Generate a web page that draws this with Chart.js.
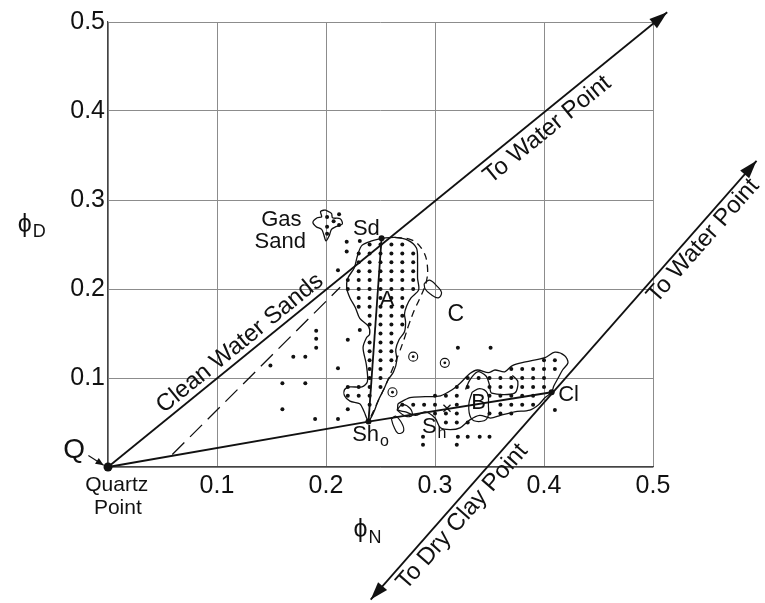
<!DOCTYPE html>
<html>
<head>
<meta charset="utf-8">
<script src="https://cdn.jsdelivr.net/npm/chart.js@4.4.0/dist/chart.umd.min.js"></script>
<style>
  body { margin: 0; background: #fff; }
</style>
</head>
<body>
<canvas id="chart" width="765" height="603"></canvas>
<script>
// Axis ticks (porosity, v/v)
const tickValues = [0, 0.1, 0.2, 0.3, 0.4, 0.5];

// Key points of the neutron-density crossplot [phiN, phiD]
const quartzPoint = [0, 0];
const waterArrow = [0.513, 0.511];
const shale0 = [0.239, 0.051];
const sandTop = [0.251, 0.257];
const clayPoint = [0.407, 0.084];
const clayLine = [[0.241, -0.149], [0.595, 0.344]];
const cleanDash = [[0.059, 0.014], [0.213, 0.202]];
const quartzArrow = [[-0.018, 0.013], [-0.004, 0.002]];

// Outlines of the data clusters
const sdBlob = [[0.251,0.257],[0.263,0.258],[0.275,0.255],[0.283,0.246],[0.284,0.230],[0.284,0.212],[0.285,0.199],[0.278,0.190],[0.274,0.181],[0.272,0.172],[0.273,0.163],[0.272,0.152],[0.267,0.143],[0.264,0.132],[0.265,0.120],[0.262,0.107],[0.257,0.098],[0.253,0.087],[0.248,0.075],[0.244,0.062],[0.239,0.052],[0.235,0.062],[0.231,0.071],[0.222,0.074],[0.217,0.080],[0.217,0.087],[0.222,0.090],[0.233,0.090],[0.238,0.096],[0.237,0.115],[0.234,0.134],[0.237,0.145],[0.240,0.149],[0.239,0.158],[0.231,0.167],[0.227,0.179],[0.222,0.190],[0.219,0.201],[0.220,0.212],[0.226,0.224],[0.229,0.238],[0.233,0.249],[0.242,0.254]];
const gasBlob = [[0.199,0.289],[0.205,0.285],[0.206,0.280],[0.213,0.279],[0.215,0.273],[0.209,0.270],[0.205,0.267],[0.203,0.260],[0.200,0.254],[0.198,0.261],[0.196,0.267],[0.191,0.270],[0.188,0.275],[0.192,0.280],[0.196,0.281],[0.195,0.287]];
const bBlob = [[0.266,0.071],[0.277,0.078],[0.291,0.079],[0.305,0.080],[0.316,0.087],[0.323,0.094],[0.332,0.105],[0.339,0.109],[0.349,0.106],[0.355,0.109],[0.364,0.107],[0.371,0.114],[0.383,0.118],[0.401,0.123],[0.410,0.129],[0.419,0.125],[0.422,0.117],[0.417,0.109],[0.413,0.100],[0.409,0.091],[0.407,0.084],[0.401,0.078],[0.395,0.070],[0.387,0.064],[0.373,0.062],[0.360,0.058],[0.351,0.055],[0.341,0.058],[0.332,0.053],[0.323,0.044],[0.314,0.042],[0.305,0.044],[0.300,0.055],[0.291,0.062],[0.282,0.058],[0.273,0.062],[0.266,0.064]];
const bInner = [[0.328,0.087],[0.332,0.098],[0.339,0.107],[0.347,0.102],[0.350,0.092],[0.352,0.083],[0.373,0.083],[0.376,0.096],[0.371,0.103]];
const bOval = [[0.334,0.084],[0.341,0.088],[0.348,0.083],[0.349,0.070],[0.348,0.055],[0.340,0.051],[0.333,0.055],[0.331,0.070]];
const tabLoop = [[0.290,0.206],[0.295,0.210],[0.302,0.203],[0.306,0.196],[0.303,0.190],[0.296,0.194],[0.291,0.200]];
const shOval = [[0.260,0.054],[0.264,0.057],[0.270,0.048],[0.271,0.040],[0.266,0.038],[0.262,0.046]];
const hookLoop = [[0.265,0.064],[0.270,0.070],[0.277,0.066],[0.279,0.058],[0.273,0.057]];
const trendDash = [[0.263,0.258],[0.279,0.255],[0.289,0.243],[0.293,0.226],[0.292,0.208],[0.287,0.192],[0.281,0.176],[0.276,0.160],[0.272,0.145],[0.267,0.128],[0.261,0.110],[0.254,0.090],[0.247,0.072],[0.239,0.051]];

// Log points: rows of [phiD, [phiN ...]]
const sdRows = [
  [0.25, [0.24, 0.25, 0.26, 0.27]],
  [0.24, [0.23, 0.24, 0.25, 0.26, 0.27, 0.28]],
  [0.23, [0.23, 0.24, 0.25, 0.26, 0.27, 0.28]],
  [0.22, [0.23, 0.24, 0.25, 0.26, 0.27, 0.28]],
  [0.21, [0.22, 0.23, 0.24, 0.25, 0.26, 0.27, 0.28]],
  [0.20, [0.22, 0.23, 0.24, 0.25, 0.26, 0.27, 0.28]],
  [0.19, [0.23, 0.24, 0.25, 0.26, 0.27]],
  [0.18, [0.23, 0.24, 0.25, 0.26, 0.27]],
  [0.17, [0.24, 0.25, 0.26, 0.27]],
  [0.16, [0.24, 0.25, 0.26, 0.27]],
  [0.15, [0.25, 0.26]],
  [0.14, [0.24, 0.25, 0.26]],
  [0.13, [0.24, 0.25, 0.26]],
  [0.12, [0.24, 0.25, 0.26]],
  [0.11, [0.24, 0.25]],
  [0.10, [0.24, 0.25]],
  [0.09, [0.22, 0.23, 0.24, 0.25]],
  [0.08, [0.22, 0.23, 0.24]],
  [0.07, [0.24]]
];
const bRows = [
  [0.12, [0.40, 0.41]],
  [0.11, [0.37, 0.38, 0.39, 0.40, 0.41]],
  [0.10, [0.33, 0.34, 0.35, 0.36, 0.37, 0.38, 0.39, 0.40]],
  [0.09, [0.32, 0.33, 0.35, 0.36, 0.37, 0.38, 0.39, 0.40]],
  [0.08, [0.30, 0.31, 0.32, 0.35, 0.36, 0.37, 0.38, 0.39]],
  [0.07, [0.27, 0.28, 0.29, 0.30, 0.32, 0.36, 0.37, 0.38, 0.39]],
  [0.06, [0.30, 0.31, 0.32, 0.35, 0.36, 0.37]],
  [0.05, [0.31, 0.32, 0.33]]
];
const looseDots = [[0.191,0.153],[0.191,0.144],[0.191,0.134],[0.170,0.124],[0.181,0.124],[0.149,0.114],[0.160,0.094],[0.181,0.094],[0.160,0.065],[0.190,0.054],[0.211,0.054],[0.220,0.065],[0.220,0.143],[0.231,0.154],[0.211,0.111],[0.211,0.221],[0.219,0.253],[0.219,0.242],[0.231,0.254],[0.321,0.134],[0.351,0.134],[0.289,0.034],[0.289,0.025],[0.320,0.025],[0.321,0.034],[0.330,0.034],[0.341,0.034],[0.350,0.034],[0.410,0.064]];
const gasDots = [[0.201,0.281],[0.201,0.270],[0.207,0.276],[0.212,0.284],[0.212,0.272],[0.201,0.262]];
const circleMarks = [[0.280,0.124],[0.261,0.084],[0.309,0.117]];
const crossMark = [[0.311,0.066]];

const ink = '#111';
const fontFamily = "'Liberation Sans', Arial, Helvetica, sans-serif";

function pts(list) {
    return list.map(p => ({ x: p[0], y: p[1] }));
}

function rowPts(rows) {
    const out = [];
    rows.forEach(([yv, xs]) => xs.forEach(xv => out.push({ x: xv, y: yv })));
    return out;
}

function closed(list) {
    return list.concat([list[0]]);
}

function lineSet(list, extra) {
    return Object.assign({
        data: pts(list),
        showLine: true,
        borderColor: ink,
        borderWidth: 1.8,
        pointRadius: 0,
        fill: false,
        clip: false,
        tension: 0
    }, extra || {});
}

function dotSet(data, extra) {
    return Object.assign({
        data: data,
        showLine: false,
        pointRadius: 2,
        pointBackgroundColor: ink,
        pointBorderWidth: 0,
        clip: false
    }, extra || {});
}

// Text labels (anchors in data units)
const textLabels = [
    { text: 'Gas', at: [0.159, 0.278], size: 22 },
    { text: 'Sand', at: [0.158, 0.253], size: 22 },
    { text: 'Sd', at: [0.237, 0.268], size: 22 },
    { text: 'A', at: [0.256, 0.188], size: 22 },
    { text: 'C', at: [0.319, 0.171], size: 23 },
    { text: 'B', at: [0.340, 0.072], size: 22 },
    { text: 'Cl', at: [0.413, 0.081], size: 22, align: 'left' },
    { text: 'S', sub: 'h', at: [0.288, 0.045], size: 22, align: 'left' },
    { text: 'Sh', sub: 'o', at: [0.224, 0.036], size: 22, align: 'left' },
    { text: 'Q', at: [-0.031, 0.019], size: 28 },
    { text: 'Quartz', at: [0.008, -0.020], size: 21 },
    { text: 'Point', at: [0.009, -0.046], size: 21 },
    { text: '\u03d5', sub: 'D', at: [-0.070, 0.272], size: 25 },
    { text: '\u03d5', sub: 'N', at: [0.238, -0.071], size: 25 },
    { text: 'Clean Water Sands', at: [0.121, 0.139], size: 24, along: 'water' },
    { text: 'To Water Point', at: [0.403, 0.379], size: 24, along: 'water' },
    { text: 'To Water Point', at: [0.546, 0.254], size: 24, along: 'clay' },
    { text: 'To Dry Clay Point', at: [0.325, -0.056], size: 24, along: 'clay' }
];

function arrowHead(ctx, from, to, len, half) {
    const dx = to[0] - from[0], dy = to[1] - from[1];
    const d = Math.hypot(dx, dy);
    const ux = dx / d, uy = dy / d;
    const bx = to[0] - ux * len, by = to[1] - uy * len;
    ctx.beginPath();
    ctx.moveTo(to[0], to[1]);
    ctx.lineTo(bx - uy * half, by + ux * half);
    ctx.lineTo(bx + uy * half, by - ux * half);
    ctx.closePath();
    ctx.fill();
}

const overlayPlugin = {
    id: 'overlay',
    afterDatasetsDraw(chart) {
        const { ctx } = chart;
        const sx = chart.scales.x, sy = chart.scales.y;
        const px = p => [sx.getPixelForValue(p[0]), sy.getPixelForValue(p[1])];
        const angleOf = (a, b) => {
            const pa = px(a), pb = px(b);
            return Math.atan2(pb[1] - pa[1], pb[0] - pa[0]);
        };
        const angles = {
            water: angleOf(quartzPoint, waterArrow),
            clay: angleOf(clayLine[0], clayLine[1])
        };

        ctx.save();
        ctx.fillStyle = ink;
        arrowHead(ctx, px(quartzPoint), px(waterArrow), 18, 6);
        arrowHead(ctx, px(clayLine[0]), px(clayLine[1]), 18, 6);
        arrowHead(ctx, px(clayLine[1]), px(clayLine[0]), 18, 6);
        arrowHead(ctx, px(quartzArrow[0]), px(quartzArrow[1]), 8, 3.5);

        textLabels.forEach(l => {
            const c = px(l.at);
            ctx.save();
            ctx.translate(c[0], c[1]);
            if (l.along) ctx.rotate(angles[l.along]);
            ctx.textBaseline = 'middle';
            ctx.textAlign = 'left';
            const mainFont = l.size + 'px ' + fontFamily;
            const subFont = Math.round(l.size * 0.72) + 'px ' + fontFamily;
            ctx.font = mainFont;
            const mainW = ctx.measureText(l.text).width;
            let subW = 0;
            if (l.sub) {
                ctx.font = subFont;
                subW = ctx.measureText(l.sub).width + 1;
            }
            const x0 = l.align === 'left' ? 0 : -(mainW + subW) / 2;
            ctx.font = mainFont;
            ctx.fillText(l.text, x0, 0);
            if (l.sub) {
                ctx.font = subFont;
                ctx.fillText(l.sub, x0 + mainW + 1, l.size * 0.3);
            }
            ctx.restore();
        });
        ctx.restore();
    }
};

const tickFont = { family: fontFamily, size: 25 };

new Chart(document.getElementById('chart'), {
    type: 'scatter',
    data: {
        datasets: [
            lineSet([quartzPoint, waterArrow]),
            lineSet([quartzPoint, shale0]),
            lineSet([shale0, clayPoint]),
            lineSet([shale0, sandTop]),
            lineSet(clayLine),
            lineSet([quartzArrow[0], quartzArrow[1]], { borderWidth: 1.2 }),
            lineSet(cleanDash, { borderWidth: 1.3, borderDash: [17, 8] }),
            lineSet(trendDash, { borderWidth: 1.3, borderDash: [7, 5], tension: 0.4 }),
            lineSet(closed(sdBlob), { borderWidth: 1.3, tension: 0.3 }),
            lineSet(closed(gasBlob), { borderWidth: 1.3, tension: 0.3 }),
            lineSet(closed(bBlob), { borderWidth: 1.3, tension: 0.3 }),
            lineSet(bInner, { borderWidth: 1.3, tension: 0.3 }),
            lineSet(closed(bOval), { borderWidth: 1.2, tension: 0.4 }),
            lineSet(closed(tabLoop), { borderWidth: 1.2, tension: 0.4 }),
            lineSet(closed(shOval), { borderWidth: 1.2, tension: 0.4 }),
            lineSet(closed(hookLoop), { borderWidth: 1.2, tension: 0.4 }),
            dotSet(rowPts(sdRows)),
            dotSet(rowPts(bRows)),
            dotSet(pts(looseDots)),
            dotSet(pts(gasDots)),
            dotSet(pts(circleMarks), { pointRadius: 4.5, pointBackgroundColor: 'rgba(0,0,0,0)', pointBorderColor: ink, pointBorderWidth: 1.1 }),
            dotSet(pts(circleMarks), { pointRadius: 1.4 }),
            dotSet(pts(crossMark), { pointStyle: 'crossRot', pointRadius: 5, pointBorderColor: ink, pointBorderWidth: 1.3 }),
            dotSet(pts([quartzPoint]), { pointRadius: 4.5 }),
            dotSet(pts([clayPoint, sandTop, shale0]), { pointRadius: 3 })
        ]
    },
    options: {
        responsive: false,
        animation: false,
        devicePixelRatio: 1,
        layout: { padding: { top: 22, right: 112, left: 0, bottom: 0 } },
        plugins: {
            legend: { display: false },
            tooltip: { enabled: false }
        },
        scales: {
            x: {
                type: 'linear',
                min: 0,
                max: 0.5,
                afterFit: s => { s.height = 136; },
                afterBuildTicks: s => { s.ticks = tickValues.map(v => ({ value: v })); },
                ticks: {
                    callback: v => v === 0 ? '' : v.toFixed(1),
                    font: tickFont,
                    color: ink,
                    padding: 4,
                    maxRotation: 0
                },
                grid: { color: '#8c8c8c', lineWidth: 1, drawTicks: false },
                border: { color: '#444', width: 1.2 }
            },
            y: {
                type: 'linear',
                min: 0,
                max: 0.5,
                afterFit: s => { s.width = 108; },
                afterBuildTicks: s => { s.ticks = tickValues.map(v => ({ value: v })); },
                ticks: {
                    callback: v => v === 0 ? '' : v.toFixed(1),
                    font: tickFont,
                    color: ink,
                    padding: 3
                },
                grid: { color: '#8c8c8c', lineWidth: 1, drawTicks: false },
                border: { color: '#444', width: 1.2 }
            }
        }
    },
    plugins: [overlayPlugin]
});
</script>
</body>
</html>
